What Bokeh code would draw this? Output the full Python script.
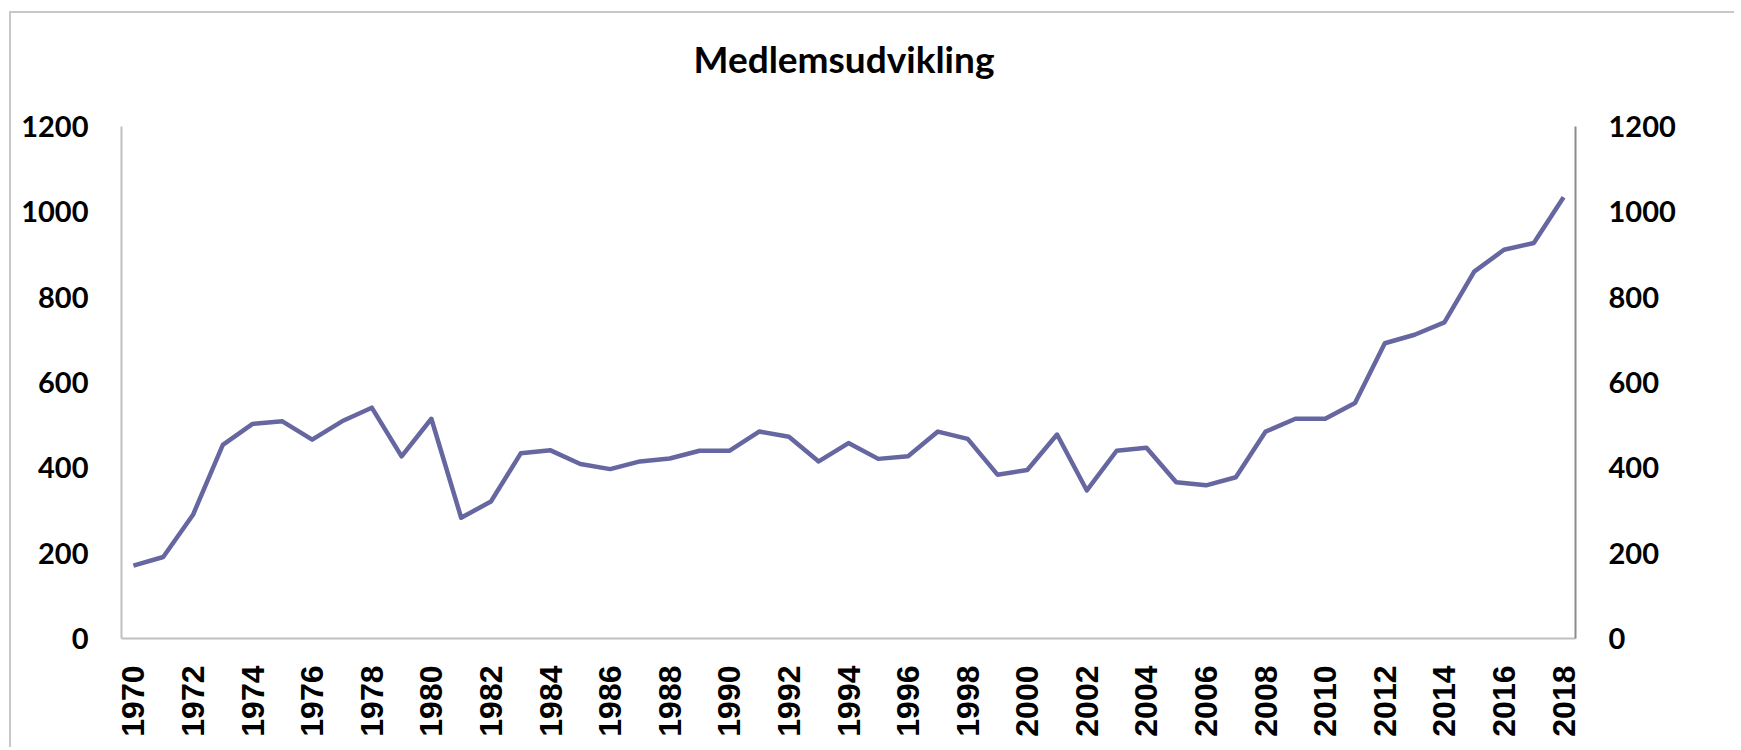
from bokeh.plotting import figure
from bokeh.models import LinearAxis, FixedTicker, Range1d
from bokeh.embed import file_html
from bokeh.resources import INLINE
import math

years = list(range(1970, 2019))
members = [171, 191, 290, 454, 503, 509, 466, 509, 541, 427,
           515, 283, 321, 434, 441, 409, 397, 415, 422, 440,
           440, 485, 473, 415, 458, 421, 427, 485, 468, 384,
           395, 478, 347, 440, 447, 366, 359, 378, 485, 515,
           515, 552, 692, 712, 741, 860, 911, 927, 1034]
x_ticks = list(range(1970, 2019, 2))
y_ticks = [0, 200, 400, 600, 800, 1000, 1200]
title_text = "Medlemsudvikling"

W, H = 1725, 736
p = figure(width=W, height=H, output_backend="svg", toolbar_location=None,
           x_range=Range1d(1969.6, 2018.4), y_range=Range1d(0, 1200),
           min_border_left=110, min_border_right=161,
           min_border_top=113, min_border_bottom=111,
           x_axis_location=None, y_axis_location=None)
p.styles = {"border-left": "2px solid #c8c8c8", "border-top": "2px solid #c8c8c8",
            "margin-left": "9px", "margin-top": "11px"}
p.outline_line_color = None
p.xgrid.visible = False
p.ygrid.visible = False
p.background_fill_color = "white"
p.border_fill_color = "white"

FONT = "Lato"

# an empty second line lifts the title further above the plot frame
p.title.text = title_text + "\n "
p.title.align = "left"
p.title.vertical_align = "top"
p.title.text_font = FONT
p.title.text_font_style = "bold"
p.title.text_font_size = "37px"
p.title.text_color = "black"
p.title.standoff = -2
p.title.offset = 572


def style_axis(ax, color, font, size):
    ax.axis_line_color = color
    ax.axis_line_width = 2
    ax.major_tick_line_color = None
    ax.minor_tick_line_color = None
    ax.major_tick_out = 0
    ax.major_tick_in = 0
    ax.minor_tick_out = 0
    ax.minor_tick_in = 0
    ax.major_label_text_font = font
    ax.major_label_text_font_style = "bold"
    ax.major_label_text_font_size = size
    ax.major_label_text_color = "black"


left = LinearAxis(ticker=FixedTicker(ticks=y_ticks))
style_axis(left, "#c0c0c0", FONT, "29px")
left.major_label_standoff = 33
p.add_layout(left, "left")

right = LinearAxis(ticker=FixedTicker(ticks=y_ticks))
style_axis(right, "#8c8c8c", FONT, "29px")
right.major_label_standoff = 33
p.add_layout(right, "right")

bottom = LinearAxis(ticker=FixedTicker(ticks=x_ticks))
style_axis(bottom, "#c0c0c0", "Liberation Sans", "32px")
bottom.major_label_orientation = math.pi / 2
bottom.major_label_standoff = 27
p.add_layout(bottom, "below")

p.line(years, members, line_color="#6666a0", line_width=4.5, line_join="round")

open("out.html", "w").write(file_html(p, INLINE))
